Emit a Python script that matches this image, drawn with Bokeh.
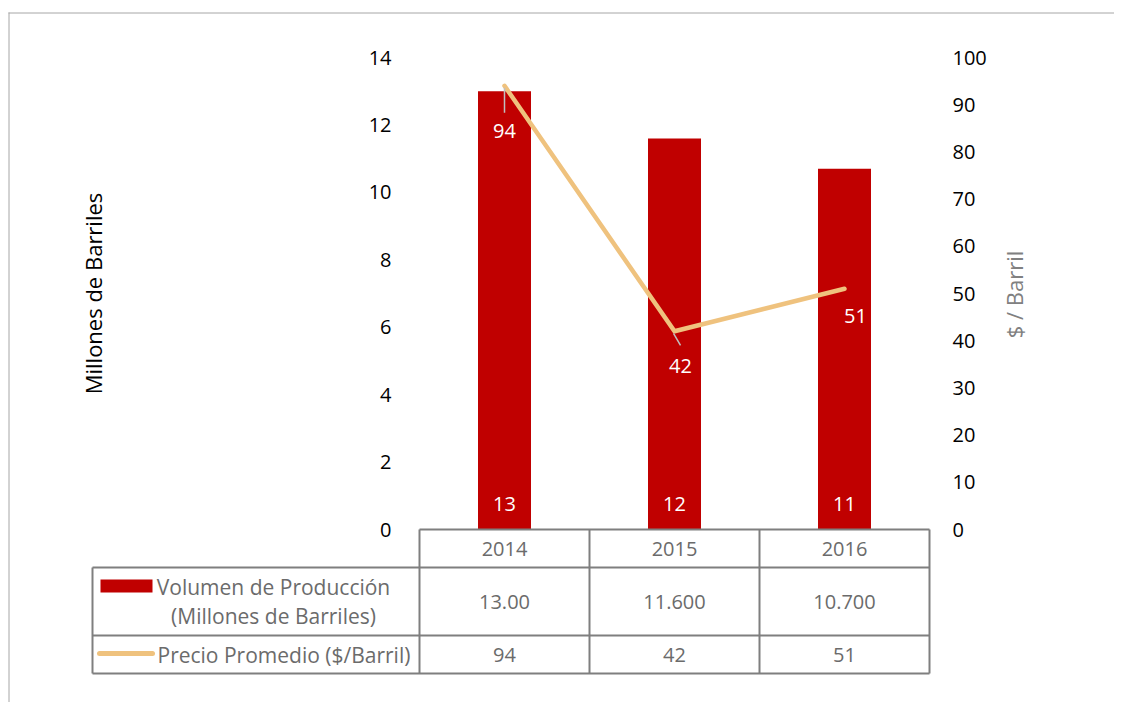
import math
from bokeh.plotting import figure
from bokeh.models import Range1d, LinearAxis, FixedTicker
from bokeh.embed import file_html
from bokeh.resources import INLINE
from bokeh.core.properties import value

# ---------------- data ----------------
years = ["2014", "2015", "2016"]
volume = [13.0, 11.6, 10.7]                      # Millones de Barriles
volume_table = ["13.00", "11.600", "10.700"]     # as printed in the table
price = [94, 42, 51]                              # $/Barril
price_table = ["94", "42", "51"]
left_ticks = [0, 2, 4, 6, 8, 10, 12, 14]
right_ticks = [0, 10, 20, 30, 40, 50, 60, 70, 80, 90, 100]
series_volume = ["Volumen de Producción", "(Millones de Barriles)"]
series_price = "Precio Promedio ($/Barril)"
left_title = "Millones de Barriles"
right_title = "$ / Barril"

# ---------------- style / layout ----------------
FONT = "Open Sans"
FS = "20px"
FS_LBL = "21px"
RED = "#C00000"
TAN = "#EFC27E"
GRID = "#7F7F7F"
TXT = "#6B6B6B"
W, H = 1114, 702
CAT_PX = 170.0          # pixel width of one category column
X0_PX = 419.0           # canvas x of the first column boundary
PRICE_PX = 472.0 / 100  # pixels per $ on the right axis


def tx(px):
    """canvas x (layout) -> category axis units"""
    return (px - X0_PX) / CAT_PX


xc = [i + 0.5 for i in range(len(years))]

p = figure(width=W, height=H, x_range=Range1d(0, 3), y_range=Range1d(0, 14),
           x_axis_type=None, y_axis_type=None, toolbar_location=None,
           output_backend="svg", min_border_left=419, min_border_right=185,
           min_border_top=57, min_border_bottom=173)
p.extra_y_ranges = {"price": Range1d(0, 100), "page": Range1d(529, 57)}
p.outline_line_color = None
p.background_fill_color = "white"
p.border_fill_color = "white"

# left axis
ya = LinearAxis(ticker=FixedTicker(ticks=left_ticks, minor_ticks=[]), axis_label=left_title)
ya.axis_line_color = None
ya.major_tick_line_color = None
ya.minor_tick_line_color = None
ya.major_tick_out = 0
ya.major_tick_in = 0
ya.major_label_standoff = 28
ya.major_label_text_font = FONT
ya.major_label_text_font_size = FS
ya.major_label_text_color = "#000000"
ya.axis_label_text_font = FONT
ya.axis_label_text_font_size = "22px"
ya.axis_label_text_font_style = "normal"
ya.axis_label_text_color = "#000000"
ya.axis_label_standoff = 258
p.add_layout(ya, "left")

# right axis (its title is drawn below as rotated text, reading bottom-to-top)
yr = LinearAxis(y_range_name="price", ticker=FixedTicker(ticks=right_ticks, minor_ticks=[]))
yr.axis_line_color = None
yr.major_tick_line_color = None
yr.minor_tick_line_color = None
yr.major_tick_out = 0
yr.major_tick_in = 0
yr.major_label_standoff = 23
yr.major_label_text_font = FONT
yr.major_label_text_font_size = FS
yr.major_label_text_color = "#000000"
p.add_layout(yr, "right")

# bars
p.vbar(x=xc, top=volume, width=53 / CAT_PX, bottom=0, fill_color=RED, line_color=None)
p.text(x=xc, y=[0] * 3, text=[f"{v:.0f}" for v in volume], y_offset=-26,
       text_color="white", text_font=value(FONT), text_font_size=value(FS),
       text_align="center", text_baseline="middle")

# price line
p.line(x=xc, y=price, y_range_name="price", line_color=TAN, line_width=4.5,
       line_cap="round", line_join="round")

# leader lines (pixel offsets from the point)
lead_start = [(0, 2), (-1, 2)]
lead_end = [(0, 27), (6, 14)]
lx0 = [xc[i] + lead_start[i][0] / CAT_PX for i in range(2)]
ly0 = [price[i] - lead_start[i][1] / PRICE_PX for i in range(2)]
lx1 = [xc[i] + lead_end[i][0] / CAT_PX for i in range(2)]
ly1 = [price[i] - lead_end[i][1] / PRICE_PX for i in range(2)]
p.segment(x0=lx0, y0=ly0, x1=lx1, y1=ly1, y_range_name="price",
          line_color="#BFBFBF", line_width=1.5)

label_dx = [0, 6, 11]
label_dy = [45, 35, 27]
p.text(x=xc, y=price, text=[str(v) for v in price], y_range_name="price",
       x_offset=label_dx, y_offset=label_dy,
       text_color="white", text_font=value(FONT), text_font_size=value(FS),
       text_align="center", text_baseline="middle")

# ---------------- elements outside the plot frame ----------------
OV = dict(y_range_name="page", level="overlay")

# right axis title
p.text(x=[tx(1013)], y=[294], text=[right_title], angle=math.pi / 2,
       text_color="#808080", text_font=value(FONT), text_font_size=value("22px"),
       text_align="center", text_baseline="middle", **OV)

# data table grid
vx = [[c, c] for c in range(4)] + [[tx(92), tx(92)]]
vy = [[529, 673] for _ in range(4)] + [[567, 673]]
hx = [[0, 3], [tx(92), 3], [tx(92), 3], [tx(92), 3]]
hy = [[529, 529], [567, 567], [635, 635], [673, 673]]
p.multi_line(xs=vx + hx, ys=vy + hy, line_color=GRID, line_width=2, **OV)

# outer frame of the picture
p.multi_line(xs=[[tx(8.5), tx(8.5)], [tx(8), tx(1130)]], ys=[[12, 720], [12.5, 12.5]],
             line_color="#A6A6A6", line_width=1, **OV)

TXTKW = dict(text_color=TXT, text_font=value(FONT), text_baseline="middle", **OV)
p.text(x=xc, y=[548] * 3, text=years, text_align="center",
       text_font_size=value(FS), **TXTKW)
p.text(x=xc, y=[601] * 3, text=volume_table, text_align="center",
       text_font_size=value(FS), **TXTKW)
p.text(x=xc, y=[654] * 3, text=price_table, text_align="center",
       text_font_size=value(FS), **TXTKW)

# legend keys
p.quad(left=[tx(100)], right=[tx(152)], top=[579], bottom=[592],
       fill_color=RED, line_color=None, **OV)
p.line(x=[tx(99), tx(152)], y=[653, 653], line_color=TAN, line_width=5,
       line_cap="round", **OV)

# row labels
p.text(x=[tx(273), tx(273)], y=[586, 615], text=series_volume, text_align="center",
       text_font_size=value(FS_LBL), **TXTKW)
p.text(x=[tx(157)], y=[654], text=[series_price], text_align="left",
       text_font_size=value(FS_LBL), **TXTKW)

open("out.html", "w").write(file_html(p, INLINE))
